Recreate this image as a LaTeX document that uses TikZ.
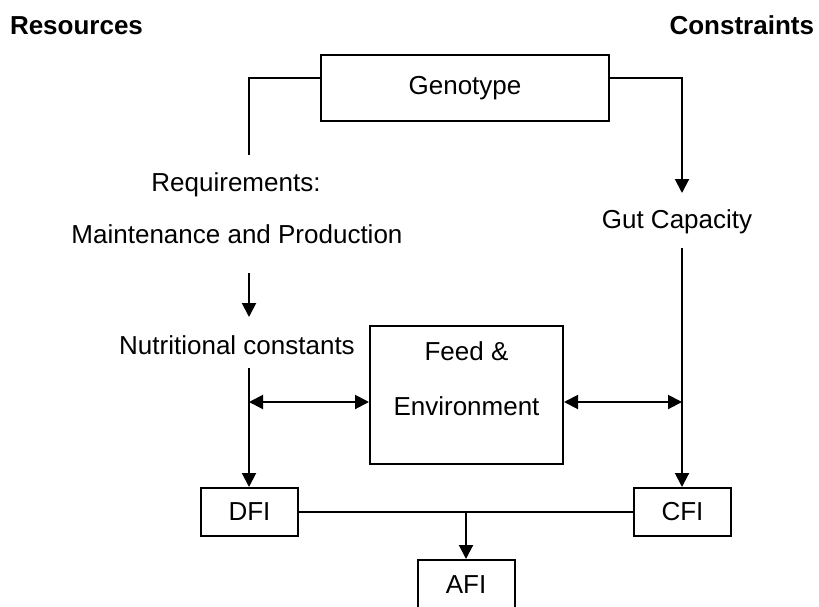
\documentclass[tikz,border=0pt]{standalone}
\usepackage{fontspec}
\setmainfont{Liberation Sans}
\usetikzlibrary{arrows.meta}
\usetikzlibrary{calc}

\tikzset{
  txt/.style = {inner sep = 0 pt, outer sep = 0 pt, anchor = base,
    font = \fontsize{26}{31}\selectfont},
  boxnode/.style = {draw, line width = 2 pt, inner sep = 0 pt,
    font = \fontsize{26}{31}\selectfont},
  link/.style = {line width = 2 pt},
  arr/.style = {link, -{Triangle[length=14pt, width=14pt]}},
  darr/.style = {link, {Triangle[length=14pt, width=14pt]}-{Triangle[length=14pt, width=14pt]}}
}

\begin{document}
\begin{tikzpicture}[x = 1 pt, y = 1 pt]
    \useasboundingbox (0, 0) rectangle (819, -606);

    % headings
    \node[txt, anchor = base west, font = \fontsize{26}{31}\selectfont\bfseries] (res) at (10, -34) {Resources};
    \node[txt, anchor = base east, font = \fontsize{26}{31}\selectfont\bfseries] (con) at (814, -34) {Constraints};

    % boxes
    \node[boxnode, minimum width = 288 pt, minimum height = 66 pt] (geno) at (465, -88) {Genotype};
    \node[boxnode, minimum width = 193 pt, minimum height = 138 pt] (feed) at (466.5, -395) {};
    \node[txt, anchor = north, align = center, font = \fontsize{26}{55}\selectfont] (feedtxt) %
      at (466.5, -342) {Feed \&\\Environment};
    \node[boxnode, minimum width = 97 pt, minimum height = 48 pt] (dfi) at (249.5, -512) {DFI};
    \node[boxnode, minimum width = 97 pt, minimum height = 48 pt] (cfi) at (682.5, -512) {CFI};
    \node[boxnode, minimum width = 97 pt, minimum height = 50 pt] (afi) at (466, -585) {AFI};

    % labels
    \node[txt] (req) at (236, -191) {Requirements:};
    \node[txt] (maint) at (237, -243) {Maintenance and Production};
    \node[txt] (nutr) at (237, -354) {Nutritional constants};
    \node[txt] (gut) at (677, -228) {Gut Capacity};

    % line ends
    \coordinate (l1) at (249, -155);
    \coordinate (l2) at (249, -273);
    \coordinate (l3) at (249, -317);
    \coordinate (l4) at (249, -368);
    \coordinate (lm) at (249, -402);
    \coordinate (r1) at (682, -193);
    \coordinate (r2) at (682, -248);
    \coordinate (rm) at (682, -402);
    \coordinate (j) at (466, -512);

    \draw[link] ([yshift=10pt] geno.west) -| (l1);
    \draw[arr] ([yshift=10pt] geno.east) -| (r1);
    \draw[arr] (l2) -- (l3);
    \draw[arr] (l4) -- (l4 |- dfi.north);
    \draw[arr] (r2) -- (r2 |- cfi.north);
    \draw[darr] (lm) -- (feed.west |- lm);
    \draw[darr] (feed.east |- rm) -- (rm);
    \draw[link] (dfi.east) -- (cfi.west);
    \draw[arr] (j) -- (afi.north);
\end{tikzpicture}
\end{document}
